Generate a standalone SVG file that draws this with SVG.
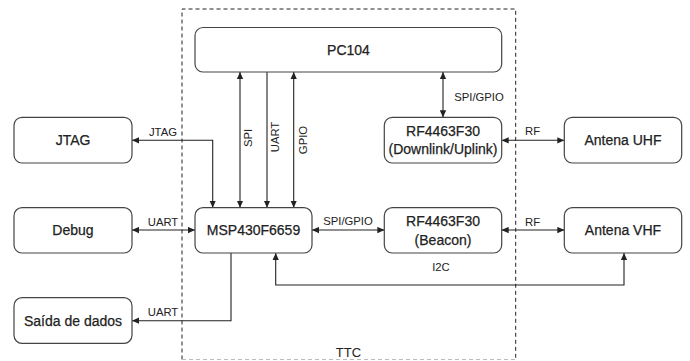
<svg xmlns="http://www.w3.org/2000/svg" width="690" height="361" viewBox="0 0 690 361">
<defs>
<marker id="arr" viewBox="0 0 10 10" refX="10" refY="5" markerWidth="7" markerHeight="7" markerUnits="userSpaceOnUse" orient="auto-start-reverse">
<path d="M0,0.5 L10,5 L0,9.5 z" fill="#222"/>
</marker>
</defs>
<style>
.box{fill:#fff;stroke:#444;stroke-width:1.2}
.t{font-family:"Liberation Sans",Arial,sans-serif;font-size:14px;fill:#222;text-anchor:middle;dominant-baseline:central;stroke:#222;stroke-width:0.25}
.l{font-family:"Liberation Sans",Arial,sans-serif;font-size:11.3px;fill:#222;text-anchor:middle;dominant-baseline:central}
.c{fill:none;stroke:#222;stroke-width:1.1}
</style>
<rect width="690" height="361" fill="#fff"/>
<path d="M182,359.5 V9 H515.7 V359.5" fill="none" stroke="#222" stroke-width="1" stroke-dasharray="4,3"/>
<path d="M182,359.5 H515.7" fill="none" stroke="#bbb" stroke-width="1" stroke-dasharray="4,3"/>
<text class="l" x="348.5" y="352" style="font-size:13px">TTC</text>
<g id="connectors">
<path class="c" d="M240,72 V207.7" marker-start="url(#arr)" marker-end="url(#arr)"/>
<path class="c" d="M267,72 V207.7" marker-end="url(#arr)"/>
<path class="c" d="M293.7,72 V207.7" marker-start="url(#arr)" marker-end="url(#arr)"/>
<path class="c" d="M212.7,207.7 V140.3 H132" marker-start="url(#arr)" marker-end="url(#arr)"/>
<path class="c" d="M132,230 H195" marker-start="url(#arr)" marker-end="url(#arr)"/>
<path class="c" d="M231,253 V320.7 H132" marker-end="url(#arr)"/>
<path class="c" d="M312,230 H384.3" marker-start="url(#arr)" marker-end="url(#arr)"/>
<path class="c" d="M275.7,253 V285 H624 V253" marker-start="url(#arr)" marker-end="url(#arr)"/>
<path class="c" d="M443,72 V117.3" marker-start="url(#arr)" marker-end="url(#arr)"/>
<path class="c" d="M501.7,140.3 H564.3" marker-start="url(#arr)" marker-end="url(#arr)"/>
<path class="c" d="M501.7,230 H564.3" marker-start="url(#arr)" marker-end="url(#arr)"/>
<text class="l" transform="translate(248,138) rotate(-90)">SPI</text>
<text class="l" transform="translate(275,137) rotate(-90)">UART</text>
<text class="l" transform="translate(302.7,140) rotate(-90)">GPIO</text>
<text class="l" x="163" y="131.7">JTAG</text>
<text class="l" x="163" y="221.7">UART</text>
<text class="l" x="163" y="311.7">UART</text>
<text class="l" x="348" y="221">SPI/GPIO</text>
<text class="l" x="479" y="96.7">SPI/GPIO</text>
<text class="l" x="532.5" y="131">RF</text>
<text class="l" x="532.5" y="221.7">RF</text>
<text class="l" x="441" y="267.3">I2C</text>
</g>
<g id="pc104"><rect class="box" x="195" y="27.5" width="306.7" height="44.5" rx="8"/><text class="t" x="348.5" y="50">PC104</text></g>
<g id="jtag"><rect class="box" x="14" y="117.3" width="118" height="45.7" rx="8"/><text class="t" x="73" y="140.3">JTAG</text></g>
<g id="debug"><rect class="box" x="14" y="207.7" width="118" height="45.3" rx="8"/><text class="t" x="73" y="230">Debug</text></g>
<g id="saida"><rect class="box" x="14" y="297.7" width="118" height="45.6" rx="8"/><text class="t" x="73" y="320.5">Saída de dados</text></g>
<g id="msp"><rect class="box" x="195" y="207.7" width="117" height="45.3" rx="8"/><text class="t" x="253.5" y="230">MSP430F6659</text></g>
<g id="rf_uhf"><rect class="box" x="384.3" y="117.3" width="117.4" height="45.7" rx="8"/><text class="t" x="443" y="131">RF4463F30</text><text class="t" x="443" y="149">(Downlink/Uplink)</text></g>
<g id="rf_beacon"><rect class="box" x="384.3" y="207.7" width="117.4" height="45.3" rx="8"/><text class="t" x="443" y="221">RF4463F30</text><text class="t" x="443" y="239.5">(Beacon)</text></g>
<g id="antena_uhf"><rect class="box" x="564.3" y="117.3" width="117.4" height="45.7" rx="8"/><text class="t" x="623" y="140.3">Antena UHF</text></g>
<g id="antena_vhf"><rect class="box" x="564.3" y="207.7" width="117.4" height="45.3" rx="8"/><text class="t" x="623" y="230">Antena VHF</text></g>
</svg>
